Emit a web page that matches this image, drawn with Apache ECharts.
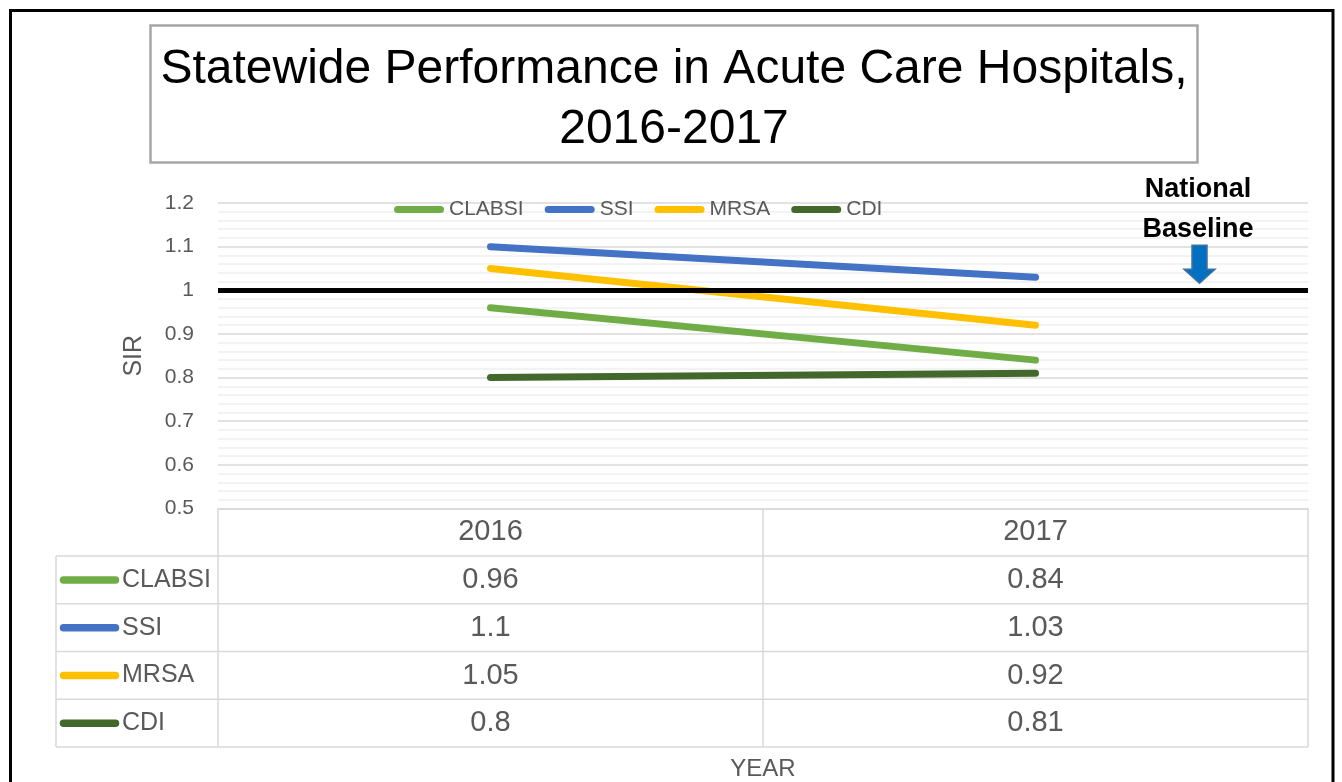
<!DOCTYPE html>
<html>
<head>
<meta charset="utf-8">
<script src="https://cdn.jsdelivr.net/npm/echarts@6/dist/echarts.min.js"></script>
<style>
  html, body { margin: 0; padding: 0; background: #fff; }
  #main { width: 1342px; height: 782px; }
</style>
</head>
<body>
<div id="main"></div>
<script>
// data
const years = ["2016", "2017"];
const seriesNames = ["CLABSI", "SSI", "MRSA", "CDI"];
const clabsi = [0.96, 0.84];
const ssi = [1.1, 1.03];
const mrsa = [1.05, 0.92];
const cdi = [0.8, 0.81];
const nationalBaseline = 1;
const colors = ["#70ad47", "#4472c4", "#ffc000", "#43682b"];

const seriesValues = [clabsi, ssi, mrsa, cdi];

// fonts / layout
const FONT = "Liberation Sans";
const TEXT = "#595959";
const GRID = { left: 218, right: 34, top: 203, bottom: 273.5, outerBoundsMode: "none" };
const axisY = 782 - GRID.bottom;
const headerH = 47.5;
const rowH = 47.75;
const tableLeft = 56;
const tableRight = 1342 - GRID.right;

const chart = echarts.init(document.getElementById("main"));

const series = seriesNames.map((name, i) => {
  const s = {
    name: name,
    type: "line",
    data: seriesValues[i],
    symbol: "none",
    z: 3,
    lineStyle: { width: 7, color: colors[i], cap: "round" },
    itemStyle: { color: colors[i] },
    emphasis: { disabled: true }
  };
  if (i === 0) {
    // 国家基线
    s.markLine = {
      silent: true,
      symbol: ["none", "none"],
      label: { show: false },
      lineStyle: { color: "#000", width: 5, type: "solid" },
      emphasis: { disabled: true },
      data: [{ yAxis: nationalBaseline }],
      z: 10
    };
  }
  return s;
});

chart.setOption({
  animation: false,
  backgroundColor: "#fff",
  title: {
    text: "Statewide Performance in Acute Care Hospitals,\n2016-2017",
    left: 664,
    top: 25,
    textAlign: "center",
    padding: [15, 10, 3, 10],
    borderColor: "#a6a6a6",
    borderWidth: 2.5,
    textStyle: {
      fontFamily: FONT,
      fontSize: 48,
      fontWeight: "normal",
      color: "#000",
      lineHeight: 60
    }
  },
  legend: {
    data: seriesNames,
    left: 389,
    top: 194,
    itemWidth: 50,
    itemHeight: 7,
    itemGap: 21,
    icon: "path://M3.5,0 L46.5,0 A3.5,3.5 0 0 1 46.5,7 L3.5,7 A3.5,3.5 0 0 1 3.5,0 Z",
    selectedMode: false,
    textStyle: { fontFamily: FONT, fontSize: 21, color: TEXT }
  },
  grid: GRID,
  xAxis: {
    type: "category",
    data: years,
    boundaryGap: true,
    name: "YEAR",
    nameLocation: "middle",
    nameGap: 249,
    nameTextStyle: { fontFamily: FONT, fontSize: 24, color: TEXT },
    axisLine: { show: true, lineStyle: { color: "#d9d9d9", width: 1.5 } },
    axisTick: {
      show: true,
      interval: 0,
      length: 238.5,
      lineStyle: { color: "#d9d9d9", width: 1.5 }
    },
    axisLabel: {
      interval: 0,
      margin: 0,
      fontFamily: FONT,
      fontSize: 29,
      color: TEXT,
      lineHeight: rowH,
      formatter: (value, idx) =>
        [value].concat(seriesValues.map((v) => String(v[idx]))).join("\n")
    },
    splitLine: { show: false }
  },
  yAxis: {
    type: "value",
    min: 0.5,
    max: 1.2,
    interval: 0.1,
    name: "SIR",
    nameLocation: "middle",
    nameGap: 71,
    nameTextStyle: { fontFamily: FONT, fontSize: 25, color: TEXT },
    axisLine: { show: false },
    axisTick: { show: false },
    axisLabel: {
      margin: 24,
      fontFamily: FONT,
      fontSize: 21,
      color: TEXT,
      formatter: (v) => String(+v.toFixed(1))
    },
    splitLine: { show: true, lineStyle: { color: "#d9d9d9", width: 1.5 } },
    minorTick: { show: false, splitNumber: 5 },
    minorSplitLine: { show: true, lineStyle: { color: "#efefef", width: 1.5 } }
  },
  series: series
});

// annotations and data table frame
const yBase = chart.convertToPixel({ yAxisIndex: 0 }, nationalBaseline);
const arrowX = 1199.5;
const graphics = [];

// outer frame
graphics.push({
  type: "rect",
  silent: true,
  shape: { x: 10.5, y: 10.5, width: 1322.5, height: 800 },
  style: { fill: "none", stroke: "#000", lineWidth: 3 }
});

// national baseline label + arrow
graphics.push({
  type: "text",
  silent: true,
  x: 1198,
  y: yBase - 121,
  style: {
    text: "National\nBaseline",
    font: "bold 27px '" + FONT + "'",
    fill: "#000",
    align: "center",
    verticalAlign: "top",
    lineHeight: 40
  }
});
graphics.push({
  type: "polygon",
  silent: true,
  shape: {
    points: [
      [arrowX - 7.5, yBase - 45],
      [arrowX + 7.5, yBase - 45],
      [arrowX + 7.5, yBase - 21],
      [arrowX + 15.5, yBase - 21],
      [arrowX, yBase - 7],
      [arrowX - 15.5, yBase - 21],
      [arrowX - 7.5, yBase - 21]
    ]
  },
  style: { fill: "#0070c0", stroke: "#41719c", lineWidth: 1.5 }
});

// table rows
for (let i = 0; i <= seriesNames.length; i++) {
  const y = axisY + headerH + i * rowH;
  graphics.push({
    type: "line",
    silent: true,
    shape: { x1: tableLeft, y1: y, x2: tableRight, y2: y },
    style: { stroke: "#d9d9d9", lineWidth: 1.5 }
  });
}
graphics.push({
  type: "line",
  silent: true,
  shape: {
    x1: tableLeft,
    y1: axisY + headerH,
    x2: tableLeft,
    y2: axisY + headerH + seriesNames.length * rowH
  },
  style: { stroke: "#d9d9d9", lineWidth: 1.5 }
});

// table legend keys
seriesNames.forEach((name, i) => {
  const cy = axisY + headerH + (i + 0.5) * rowH;
  graphics.push({
    type: "line",
    silent: true,
    shape: { x1: 63.5, y1: cy, x2: 115.5, y2: cy },
    style: { stroke: colors[i], lineWidth: 7.5, lineCap: "round" }
  });
  graphics.push({
    type: "text",
    silent: true,
    x: 122,
    y: cy,
    style: {
      text: name,
      font: "25px '" + FONT + "'",
      fill: TEXT,
      align: "left",
      verticalAlign: "middle"
    }
  });
});

chart.setOption({ graphic: graphics });
</script>
</body>
</html>
